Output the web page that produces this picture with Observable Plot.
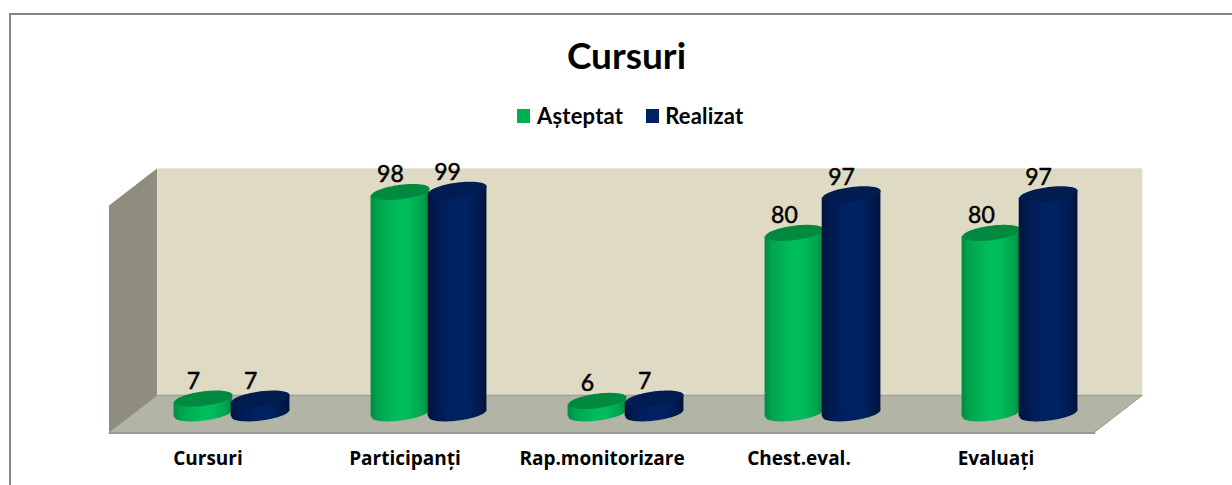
<!DOCTYPE html>
<html><head><meta charset="utf-8">
<script src="https://cdn.jsdelivr.net/npm/d3@7"></script>
<script src="https://cdn.jsdelivr.net/npm/@observablehq/plot@0.6"></script>
<style>
html,body{margin:0;padding:0;background:#fff;overflow:hidden}
#wrap{position:relative;width:1232px;height:485px;overflow:hidden;font-family:Lato,"Noto Sans",sans-serif;color:#000}
#frame{position:absolute;left:9px;top:13px;width:1300px;height:500px;border:2px solid #868686;box-sizing:border-box}
#head{position:absolute;left:0;top:0;width:1232px;height:140px}
#title{position:absolute;left:0;width:1253px;top:32px;text-align:center;font-size:37px;font-weight:700;line-height:46px}
#legend{position:absolute;left:517px;top:102px;display:flex;align-items:center;font-size:22px;font-weight:700;line-height:28px;letter-spacing:.2px}
#legend i{display:inline-block;width:13px;height:14px;margin-right:7px}
#legend span{margin-right:23px}
#legend span:last-child{margin-left:-1px}
#chart{position:absolute;left:0;top:140px}
svg{display:block}
</style></head>
<body>
<div id="wrap">
  <div id="frame"></div>
  <div id="head">
    <div id="title">Cursuri</div>
    <div id="legend"></div>
  </div>
  <div id="chart"></div>
</div>
<script>
const categories = ["Cursuri","Participanți","Rap.monitorizare","Chest.eval.","Evaluați"];
const seriesNames = ["Așteptat","Realizat"];
const asteptat = [7,98,6,80,80];
const realizat = [7,99,7,97,97];
const yMax = 100;
const swatch = ["#00B050","#002060"];

// 3D depth in data units
const depthX = 24/197, depthY = 8.15, offset = 0.145, half = 0.149, shear = 0.122, base = 0.5;

const rows = categories.flatMap((c,i)=>[
  {c,i,series:0,value:asteptat[i],cx:i+0.5-offset},
  {c,i,series:1,value:realizat[i],cx:i+0.5+offset}
]);
const byS = s => rows.filter(d=>d.series===s);

const sidePts = [
  {x:-depthX,y1:-depthY,y2:yMax-depthY},
  {x:depthX,y1:depthY,y2:yMax+depthY}
];
const floorPts = [
  {y:depthY,x1:depthX,x2:categories.length+depthX},
  {y:-depthY,x1:-depthX,x2:categories.length-depthX}
];
const backPts = [{x1:depthX,x2:categories.length+depthX,y1:depthY,y2:yMax+depthY}];
const frontEdge = [{x:-depthX,y:-depthY},{x:categories.length-depthX,y:-depthY}];

const ellipse = {draw(ctx,size){
  const a=Math.sqrt(size/Math.PI), b=a*0.25, n=64;
  for(let k=0;k<n;k++){
    const t=2*Math.PI*k/n, x=a*Math.cos(t), y=b*Math.sin(t)-shear*x;
    k?ctx.lineTo(x,y):ctx.moveTo(x,y);
  }
  ctx.closePath();
}};
const skew = (index,scales,values,dims,ctx,next)=>{
  const g=next(index,scales,values,dims,ctx);
  const ang=Math.atan(-shear)*180/Math.PI;
  g.querySelectorAll("rect").forEach((r,j)=>{
    const i=index[j], cx=(values.x1[i]+values.x2[i])/2;
    r.setAttribute("transform",`translate(${cx},0) skewY(${ang}) translate(${-cx},0)`);
  });
  return g;
};
const defs = ()=>{
  const ns="http://www.w3.org/2000/svg";
  const d=document.createElementNS(ns,"defs");
  const grads={
    gGreen:[[0,"#008B40"],[0.12,"#00A44E"],[0.45,"#00BC5A"],[0.65,"#00BC5A"],[0.88,"#00A44E"],[1,"#008B40"]],
    gBlue:[[0,"#00123B"],[0.12,"#001A4E"],[0.45,"#002263"],[0.65,"#002263"],[0.88,"#001A4E"],[1,"#00123B"]]
  };
  for(const id in grads){
    const lg=document.createElementNS(ns,"linearGradient");
    lg.setAttribute("id",id);
    for(const [o,c] of grads[id]){
      const s=document.createElementNS(ns,"stop");
      s.setAttribute("offset",o);s.setAttribute("stop-color",c);lg.appendChild(s);
    }
    d.appendChild(lg);
  }
  return d;
};
const cyl = (s,grad,top)=>[
  Plot.rect(byS(s),{x1:d=>d.cx-half,x2:d=>d.cx+half,y1:()=>base,y2:"value",fill:`url(#${grad})`,render:skew}),
  Plot.dot(byS(s),{x:"cx",y:()=>base,r:29,symbol:ellipse,fill:`url(#${grad})`}),
  Plot.dot(byS(s),{x:"cx",y:"value",r:29,symbol:ellipse,fill:top}),
  Plot.text(byS(s),{x:"cx",y:"value",text:d=>String(d.value),dx:-10,dy:-17,fontSize:23,fill:"#000",stroke:"#000",strokeWidth:0.5})
];

const chart = Plot.plot({
  width:1232,height:345,
  marginTop:0,marginLeft:0,marginRight:0,marginBottom:53,
  style:{background:"transparent",fontFamily:"Lato,'Noto Sans',sans-serif",overflow:"visible"},
  x:{type:"linear",domain:[0,categories.length],range:[133,1118],axis:null},
  y:{type:"linear",domain:[0,yMax],range:[274,47],axis:null},
  marks:[
    defs,
    Plot.rect(backPts,{x1:"x1",x2:"x2",y1:"y1",y2:"y2",fill:"#DEDAC3",stroke:"#E9E7D8",strokeWidth:1}),
    Plot.area(sidePts,{x1:"x",y1:"y1",y2:"y2",fill:"#8F8D7E"}),
    Plot.areaX(floorPts,{y:"y",x1:"x1",x2:"x2",fill:"#B2B5A6",stroke:"#93948A",strokeWidth:1}),
    Plot.line(frontEdge,{x:"x",y:"y",stroke:"#9A9A92",strokeWidth:2}),
    ...cyl(0,"gGreen","#008A40"),
    ...cyl(1,"gBlue","#001C50"),
    Plot.axisX({
      ticks:categories.map((c,i)=>i+0.5-depthX),
      tickFormat:v=>categories[Math.round(v+depthX-0.5)],
      tickSize:0,tickPadding:19,fontSize:19,fontWeight:700,label:null,anchor:"bottom",stroke:"none",
      fontFamily:"'Open Sans','Noto Sans',sans-serif"
    })
  ]
});
document.getElementById("chart").appendChild(chart);
const legend=document.getElementById("legend");
seriesNames.forEach((n,i)=>{
  const sw=document.createElement("i");sw.style.background=swatch[i];
  const t=document.createElement("span");t.textContent=n;
  legend.append(sw,t);
});
</script>
</body></html>
